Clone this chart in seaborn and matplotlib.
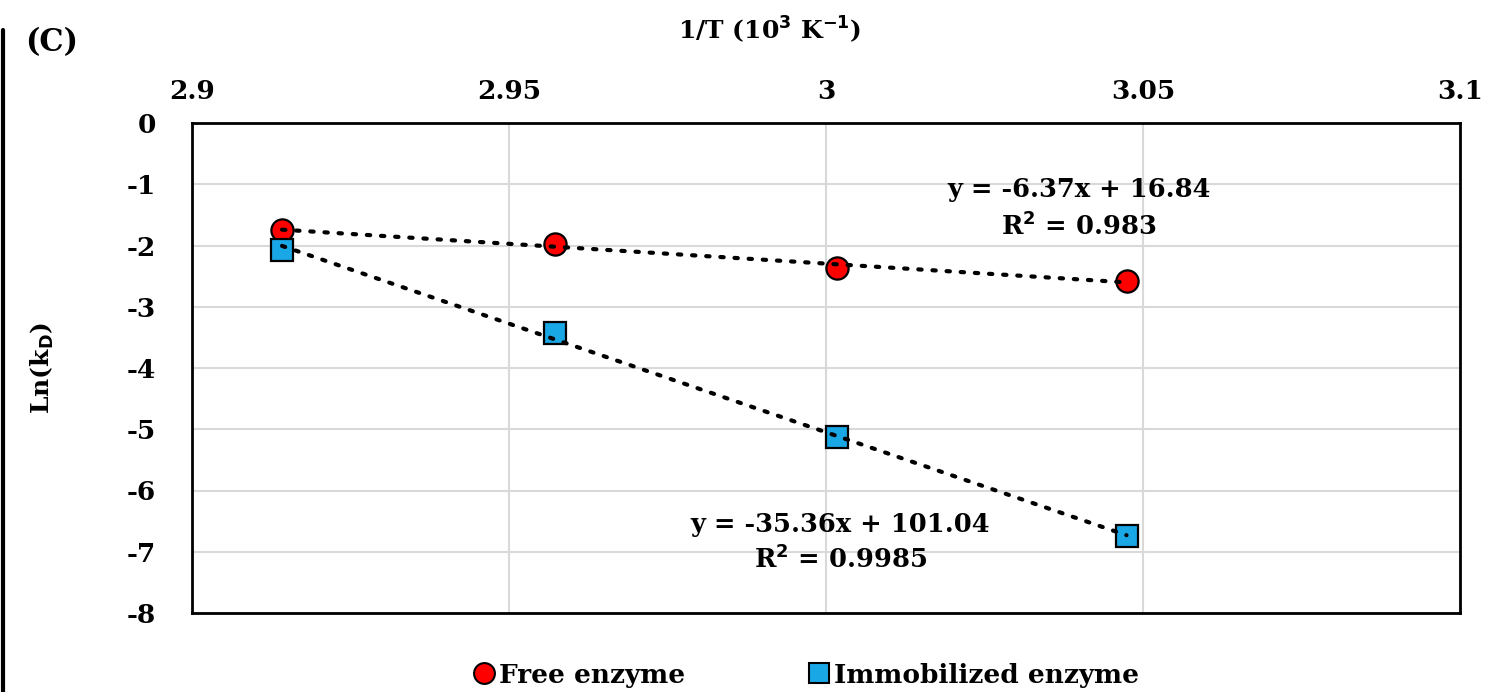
import numpy as np
import pandas as pd
import matplotlib
matplotlib.use("Agg")
import matplotlib.pyplot as plt
import seaborn as sns
from matplotlib.lines import Line2D

# ---- data ----
inv_T = [2.9142, 2.9573, 3.0017, 3.0474]          # 1/T (10^3 K^-1)
free_lnkd = [-1.75, -1.98, -2.36, -2.58]
immob_lnkd = [-2.07, -3.43, -5.13, -6.75]
series_names = ["Free enzyme", "Immobilized enzyme"]
x_ticks = [2.9, 2.95, 3.0, 3.05, 3.1]
x_ticklabels = ["2.9", "2.95", "3", "3.05", "3.1"]
y_ticks = [0, -1, -2, -3, -4, -5, -6, -7, -8]
free_eq = ["y = -6.37x + 16.84", "R$^2$ = 0.983"]
immob_eq = ["y = -35.36x + 101.04", "R$^2$ = 0.9985"]

df = pd.DataFrame({
    "x": inv_T * 2,
    "y": free_lnkd + immob_lnkd,
    "series": [series_names[0]] * 4 + [series_names[1]] * 4,
})

sns.set_theme(style="white")
plt.rcParams["font.family"] = ["DejaVu Serif"]
plt.rcParams["font.weight"] = "bold"
plt.rcParams["text.color"] = "black"
plt.rcParams["xtick.color"] = "black"
plt.rcParams["ytick.color"] = "black"
plt.rcParams["axes.labelcolor"] = "black"

fig = plt.figure(figsize=(14.86, 6.92), dpi=100)
ax = fig.add_axes([192/1486, 1-613/692, (1460-192)/1486, (613-123)/692])

colors = {series_names[0]: "#FF0000", series_names[1]: "#1AA7E6"}
markers = {series_names[0]: "o", series_names[1]: "s"}
sizes = {series_names[0]: 16, series_names[1]: 16}

for name in series_names:
    sub = df[df["series"] == name]
    sns.regplot(data=sub, x="x", y="y", ax=ax, ci=None, scatter=False,
                truncate=True,
                line_kws=dict(color="black", linestyle=(0, (0.8, 2.6)),
                              linewidth=3.0, dash_capstyle="round", zorder=4))

for name in series_names:
    sub = df[df["series"] == name]
    ax.plot(sub["x"], sub["y"], linestyle="none", marker=markers[name],
            markersize=sizes[name], markerfacecolor=colors[name],
            markeredgecolor="black", markeredgewidth=1.6, zorder=3)

ax.set_xlim(2.9, 3.1)
ax.set_ylim(-8, 0)
ax.xaxis.tick_top()
ax.xaxis.set_label_position("top")
ax.set_xticks(x_ticks)
ax.set_xticklabels(x_ticklabels, fontsize=19, fontweight="bold")
ax.set_yticks(y_ticks)
ax.set_yticklabels([str(v) for v in y_ticks], fontsize=19, fontweight="bold")
ax.tick_params(axis="x", pad=14, length=0, colors="black")
ax.tick_params(axis="y", pad=26, length=0, colors="black")
ax.grid(True, color="#d9d9d9", linewidth=1.5)
ax.set_axisbelow(True)
for s in ax.spines.values():
    s.set_color("black")
    s.set_linewidth(2)

ax.set_xlabel("")
ax.set_ylabel("")
fig.text(770/1486, 1-30/692, "1/T (10$^3$ K$^{-1}$)", ha="center", va="center",
         fontsize=18, fontweight="bold")
fig.text(42/1486, 1-368/692, "Ln(k$_\\mathbf{D}$)", ha="center", va="center",
         rotation=90, fontsize=18, fontweight="bold")
fig.text(25/1486, 1-43/692, "(C)", ha="left", va="center", fontsize=22,
         fontweight="bold")

ax.text(3.0399, -1.09, free_eq[0], ha="center", va="center", fontsize=18.5,
        fontweight="bold")
ax.text(3.0399, -1.68, free_eq[1], ha="center", va="center", fontsize=18.5,
        fontweight="bold")
ax.text(3.0023, -6.56, immob_eq[0], ha="center", va="center", fontsize=18.5,
        fontweight="bold")
ax.text(3.0023, -7.12, immob_eq[1], ha="center", va="center", fontsize=18.5,
        fontweight="bold")

# panel border line at left
fig.add_artist(Line2D([3/1486, 3/1486], [0, 1-30/692], transform=fig.transFigure,
                      color="black", linewidth=3))

handles = [Line2D([], [], linestyle="none", marker=markers[n], markersize=sizes[n]-1,
                  markerfacecolor=colors[n], markeredgecolor="black",
                  markeredgewidth=1.5) for n in series_names]
fig.legend(handles, series_names, loc="center", ncol=2,
           bbox_to_anchor=(805/1486, 1-675/692), frameon=False,
           prop=dict(size=19, weight="bold"), handletextpad=0.05,
           columnspacing=4.6, handlelength=1.0)

fig.savefig("out.png", dpi=100)
